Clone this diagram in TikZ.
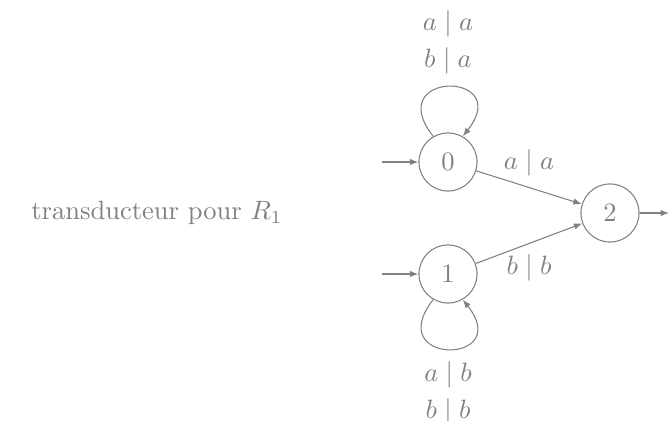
\documentclass[tikz,border=0pt]{standalone}
\usetikzlibrary{arrows.meta}
\begin{document}
\begin{tikzpicture}[x=0.377pt,y=-0.377pt,
  every node/.style={text=gray},
  state/.style={circle,draw=gray,minimum size=21.9pt,inner sep=0pt},
  trans/.style={draw=gray,-{Latex[length=3.2pt,width=2.4pt]}},
  lbl/.style={inner sep=1pt}]
\useasboundingbox (0,0) rectangle (669,421);
\node (title) at (157,213) {transducteur pour $R_1$};
\node[state] (n0) at (448,162) {$0$};
\node[state] (n1) at (448,274) {$1$};
\node[state] (n2) at (610,213) {$2$};
\coordinate (i0) at (382,162);
\coordinate (i1) at (382,274);
\coordinate (f2) at (669,213);
\draw[trans] (i0) -- (n0);
\draw[trans] (i1) -- (n1);
\draw[trans] (n2) -- (f2);
\draw[trans] (n0) -- node[lbl,above=3pt,pos=0.5] {$a\mid a$} (n2);
\draw[trans] (n1) -- node[lbl,below=3pt,pos=0.5] {$b\mid b$} (n2);
\draw[trans] (n0.120) .. controls +(-52,-66) and +(52,-66) .. node[lbl,above=3.5pt,pos=0.5,align=center] {$a\mid a$\\[2pt]$b\mid a$} (n0.60);
\draw[trans] (n1.240) .. controls +(-52,66) and +(52,66) .. node[lbl,below=3.5pt,pos=0.5,align=center] {$a\mid b$\\[2pt]$b\mid b$} (n1.300);
\end{tikzpicture}
\end{document}
